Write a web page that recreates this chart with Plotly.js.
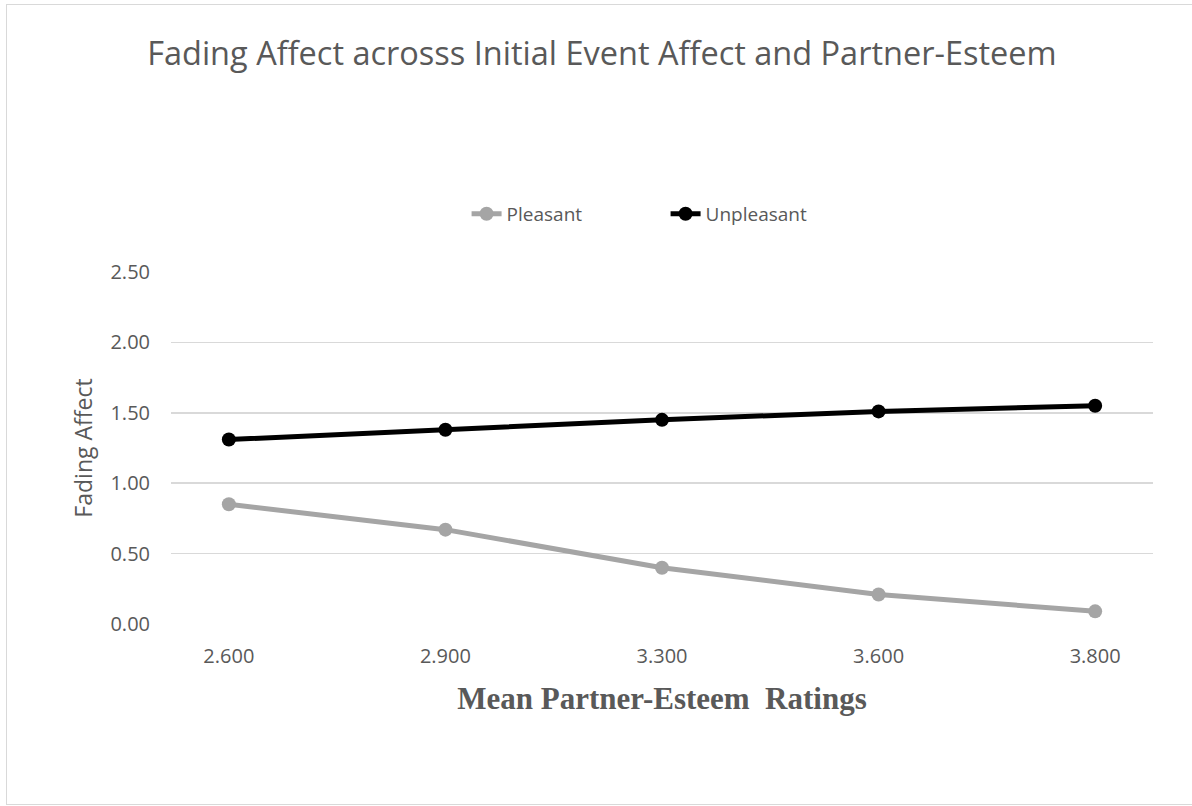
<!DOCTYPE html>
<html>
<head>
<meta charset="utf-8">
<script src="https://cdn.plot.ly/plotly-3.0.1.min.js"></script>
<style>
  body { margin: 0; padding: 0; background: #ffffff; }
  #wrap { position: relative; width: 1192px; height: 806px; overflow: hidden; }
  #chart { position: absolute; left: 0; top: 0; width: 1192px; height: 806px; }
  #frame { position: absolute; left: 6px; top: 4px; width: 1190px; height: 801px; border: 1.5px solid #d9d9d9; box-sizing: border-box; pointer-events: none; }
</style>
</head>
<body>
<div id="wrap">
  <div id="chart"></div>
  <div id="frame"></div>
</div>
<script>
const categories = ["2.600", "2.900", "3.300", "3.600", "3.800"];
const pleasant = [0.85, 0.67, 0.40, 0.21, 0.09];
const unpleasant = [1.31, 1.38, 1.45, 1.51, 1.55];
const yTicks = [0, 0.5, 1.0, 1.5, 2.0, 2.5];
const yTickLabels = ["0.00", "0.50", "1.00", "1.50", "2.00", "2.50"];

const traces = [
  {
    x: categories, y: pleasant, name: "Pleasant", type: "scatter", mode: "lines+markers",
    line: { color: "#a5a5a5", width: 5 },
    marker: { color: "#a5a5a5", size: 14 }
  },
  {
    x: categories, y: unpleasant, name: "Unpleasant", type: "scatter", mode: "lines+markers",
    line: { color: "#000000", width: 5 },
    marker: { color: "#000000", size: 14 }
  }
];

const layout = {
  width: 1192, height: 806,
  margin: { l: 171, r: 39, t: 272, b: 182 },
  paper_bgcolor: "#ffffff", plot_bgcolor: "#ffffff",
  font: { family: "Open Sans, sans-serif", color: "#595959" },
  title: {
    text: "Fading Affect acrosss Initial Event Affect and Partner-Esteem",
    font: { family: "Open Sans, sans-serif", size: 32.5, color: "#595959" },
    x: 0.505, xanchor: "center", y: 0.934, yanchor: "middle"
  },
  showlegend: true,
  legend: {
    orientation: "h", x: 0.301, xanchor: "left", y: 1.165, yanchor: "middle",
    font: { family: "Open Sans, sans-serif", size: 19, color: "#595959" },
    entrywidth: 154, entrywidthmode: "pixels", traceorder: "normal"
  },
  xaxis: {
    type: "category",
    showgrid: false, zeroline: false, showline: false,
    ticks: "", tickfont: { family: "Open Sans, sans-serif", size: 20, color: "#595959" },
    ticklabelstandoff: 18,
    title: {
      text: "Mean Partner-Esteem  Ratings",
      font: { family: "Liberation Serif, Times New Roman, serif", size: 31, color: "#595959", weight: "bold" },
      standoff: 19
    },
    fixedrange: true
  },
  yaxis: {
    range: [0, 2.5],
    tickvals: yTicks, ticktext: yTickLabels,
    showgrid: true, gridcolor: "#d9d9d9", gridwidth: 1.5,
    zeroline: false, showline: false, ticks: "",
    tickfont: { family: "Open Sans, sans-serif", size: 20, color: "#595959" },
    ticklabelstandoff: 20,
    title: {
      text: "Fading Affect",
      font: { family: "Open Sans, sans-serif", size: 23, color: "#595959" },
      standoff: 11
    },
    fixedrange: true
  }
};

Plotly.newPlot("chart", traces, layout, { displayModeBar: false, staticPlot: true });
</script>
</body>
</html>
